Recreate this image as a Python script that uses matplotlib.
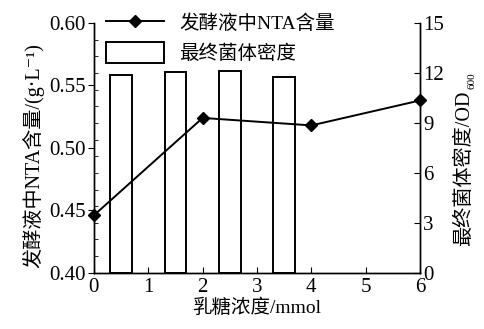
import matplotlib
matplotlib.use("Agg")
import matplotlib.pyplot as plt
from matplotlib.ticker import MultipleLocator

FAM = ['Liberation Serif', 'Noto Sans CJK SC', 'DejaVu Sans']
plt.rcParams['font.family'] = FAM

# Data
line_x = [0, 2, 4, 6]
nta = [0.446, 0.524, 0.518, 0.538]
bar_x = [0.5, 1.5, 2.5, 3.5]
od600 = [11.87, 12.05, 12.1, 11.77]
x_ticks = [0, 1, 2, 3, 4, 5, 6]

W, H = 484, 329
fig = plt.figure(figsize=(W / 100, H / 100), dpi=100)
ax = fig.add_axes([0.194, 0.171, 0.674, 0.759])
ax2 = ax.twinx()

bars = ax2.bar(bar_x, od600, width=0.4, facecolor='white', edgecolor='black',
               linewidth=1.4, label='最终菌体密度')
ln, = ax.plot(line_x, nta, color='black', lw=1.4, marker='D', markersize=6,
              label='发酵液中NTA含量', clip_on=False, zorder=5)

ax.set_zorder(ax2.get_zorder() + 1)
ax.patch.set_visible(False)

ax.set_xlim(0, 6)
ax.set_ylim(0.40, 0.60)
ax2.set_ylim(0, 15)
ax.set_xticks(x_ticks)
ax.set_yticks([0.40, 0.45, 0.50, 0.55, 0.60])
ax.set_yticklabels(['0.40', '0.45', '0.50', '0.55', '0.60'])
ax.yaxis.set_minor_locator(MultipleLocator(0.2 / 15))
ax2.set_yticks([0, 3, 6, 9, 12, 15])
ax2.yaxis.set_minor_locator(MultipleLocator(1))

for a in (ax, ax2):
    a.spines['top'].set_visible(False)
    for s in a.spines.values():
        s.set_linewidth(1.0)

ax.tick_params(axis='y', which='major', direction='out', length=4, labelsize=15, pad=2)
ax.tick_params(axis='y', which='minor', direction='in', length=3)
ax.tick_params(axis='x', which='major', direction='in', length=4, labelsize=15, pad=4)
ax2.tick_params(axis='y', which='major', direction='in', length=4, labelsize=15, pad=2)
ax2.tick_params(axis='y', which='minor', direction='in', length=0)

ax.set_xlabel('乳糖浓度/mmol', fontsize=14, labelpad=1)
ax.set_ylabel('发酵液中NTA含量/(g·L⁻¹)', fontsize=14.5, labelpad=3)
ax.yaxis.label.set_y(0.47)
ax2.set_ylabel('最终菌体密度/OD', fontsize=14.5, labelpad=8)
ax2.yaxis.label.set_y(0.42)

leg = ax.legend([ln, bars], ['发酵液中NTA含量', '最终菌体密度'], loc='upper left',
                bbox_to_anchor=(0.0, 1.09), frameon=False, fontsize=14,
                handlelength=3.0, handleheight=1.3, borderaxespad=0.2,
                labelspacing=0.45, handletextpad=0.8)

fig.canvas.draw()
bb = ax2.yaxis.label.get_window_extent()
fig.text((bb.x1 + 2) / W, (bb.y1 + 1) / H, '600', rotation=90, ha='right',
         va='bottom', fontsize=8)

fig.savefig('out.png', dpi=100)
